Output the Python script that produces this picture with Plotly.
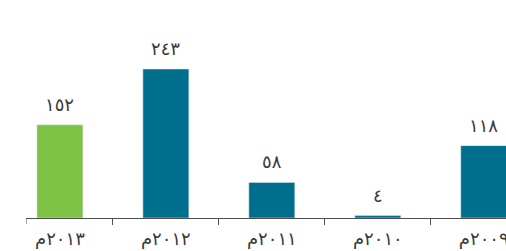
import plotly.graph_objects as go

categories = ["٢٠١٣م", "٢٠١٢م", "٢٠١١م", "٢٠١٠م", "٢٠٠٩م"]
values = [152, 243, 58, 4, 118]
value_labels = ["١٥٢", "٢٤٣", "٥٨", "٤", "١١٨"]
colors = ["#7DC242", "#006F8E", "#006F8E", "#006F8E", "#006F8E"]

font_family = "DejaVu Sans"

fig = go.Figure()
fig.add_trace(go.Bar(
    x=categories, y=values, marker_color=colors, width=0.434,
    hoverinfo="skip",
))

for c, v, t in zip(categories, values, value_labels):
    fig.add_annotation(x=c, y=v, text=t, showarrow=False, yanchor="bottom",
                       yshift=8, font=dict(family=font_family, size=18, color="#3a3a3a"))

# tick at the left end of the axis
fig.add_shape(type="line", xref="x", yref="paper", x0=-0.32, x1=-0.32, y0=0, y1=-0.027,
              line=dict(color="#4d4d4d", width=1))

fig.update_layout(
    width=506, height=251,
    margin=dict(l=26, r=0, t=0, b=33, autoexpand=False),
    paper_bgcolor="white", plot_bgcolor="white",
    showlegend=False, bargap=0.5,
)
fig.update_xaxes(
    type="category", categoryorder="array", categoryarray=categories,
    range=[-0.32, 4.21], showline=True, linecolor="#4d4d4d", linewidth=1,
    ticks="outside", tickson="boundaries", ticklen=6, tickcolor="#4d4d4d",
    showgrid=False, automargin=False, ticklabelstandoff=4,
    tickfont=dict(family=font_family, size=18, color="#3a3a3a"),
)
fig.update_yaxes(range=[0, 355.5], visible=False, showgrid=False, automargin=False)

fig.write_html(
    "out.html",
    config={"displayModeBar": False},
    post_script=(
        "document.body.style.margin='0';"
        "document.documentElement.style.overflow='hidden';"
        "document.body.style.overflow='hidden';"
    ),
)
